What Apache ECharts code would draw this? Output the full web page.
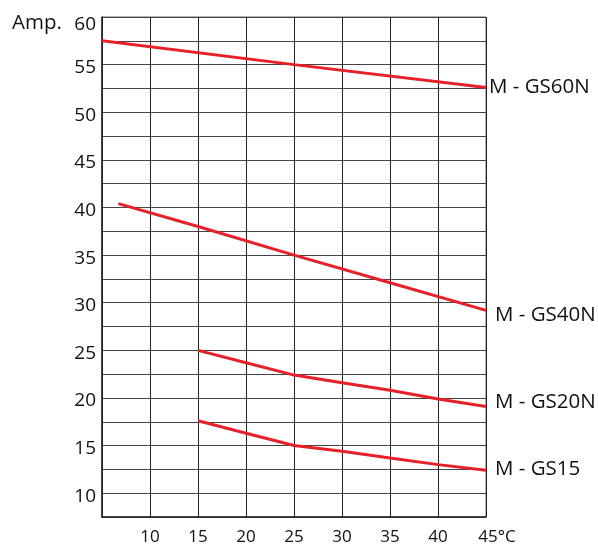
<!DOCTYPE html>
<html>
<head>
<meta charset="utf-8">
<script src="https://cdn.jsdelivr.net/npm/echarts@6/dist/echarts.min.js"></script>
<style>html,body{margin:0;padding:0;background:#fff}#c{width:598px;height:544px}</style>
</head>
<body>
<div id="c"></div>
<script>
var seriesNames = ['M - GS60N', 'M - GS40N', 'M - GS20N', 'M - GS15'];
var gs60n = [[5, 57.5], [25, 55.0], [45, 52.6]];
var gs40n = [[6.7, 40.4], [15, 38.0], [25, 35.0], [35, 32.1], [45, 29.2]];
var gs20n = [[15, 25.0], [20, 23.7], [25, 22.4], [30, 21.6], [35, 20.8], [40, 19.9], [45, 19.1]];
var gs15 = [[15, 17.6], [20, 16.3], [25, 15.0], [30, 14.4], [35, 13.7], [40, 13.0], [45, 12.4]];
var xTicks = [10, 15, 20, 25, 30, 35, 40, 45];
var yTicks = [10, 15, 20, 25, 30, 35, 40, 45, 50, 55, 60];

var allData = [gs60n, gs40n, gs20n, gs15];
var labelOffsets = [[1, 0], [7, 5], [7, -4], [7, -1]];
var red = '#e8202a';
var chart = echarts.init(document.getElementById('c'), null, {renderer: 'canvas'});
chart.setOption({
  animation: false,
  backgroundColor: '#fff',
  title: {
    text: 'Amp.', left: 7, top: 8,
    textStyle: {fontFamily: 'Open Sans', fontSize: 20.5, fontWeight: 'normal', color: '#111'}
  },
  grid: {left: 102, right: 112, top: 17, bottom: 27, show: true, borderColor: '#666', borderWidth: 1,
         outerBoundsMode: 'none', containLabel: false},
  xAxis: {
    type: 'value', min: 5, max: 45, interval: 5,
    axisLine: {show: true, onZero: false, lineStyle: {color: '#222', width: 1.5}},
    axisTick: {show: false},
    splitLine: {show: true, lineStyle: {color: '#222', width: 1}},
    axisLabel: {
      margin: 12,
      fontFamily: 'Open Sans', fontSize: 17, color: '#111',
      formatter: function (v) {
        if (xTicks.indexOf(v) < 0) return '';
        if (v === 45) return '{p|45°C}';
        return String(v);
      },
      rich: {p: {fontFamily: 'Open Sans', fontSize: 17, color: '#111', padding: [0, 0, 0, 22]}}
    }
  },
  yAxis: {
    type: 'value', min: 7.5, max: 60, interval: 2.5,
    axisLine: {show: true, lineStyle: {color: '#222', width: 1.5}},
    axisTick: {show: false},
    splitLine: {show: true, lineStyle: {color: '#444', width: 1}},
    axisLabel: {
      margin: 6,
      fontFamily: 'Open Sans', fontSize: 19, color: '#111',
      padding: [6, 0, 0, 0],
      formatter: function (v) {
        if (yTicks.indexOf(v) < 0) return '';
        if (v === 60) return '{t|60}';
        return String(v);
      },
      rich: {t: {fontFamily: 'Open Sans', fontSize: 19, color: '#111', padding: [10, 0, 0, 0]}}
    }
  },
  series: allData.map(function (d, i) {
    return {
      name: seriesNames[i],
      type: 'line',
      data: d,
      symbol: 'none',
      smooth: false,
      lineStyle: {color: red, width: 3},
      endLabel: {
        show: true,
        formatter: seriesNames[i],
        fontFamily: 'Open Sans', fontSize: 20.5, color: '#111',
        distance: 2,
        offset: labelOffsets[i]
      }
    };
  })
});
</script>
</body>
</html>
